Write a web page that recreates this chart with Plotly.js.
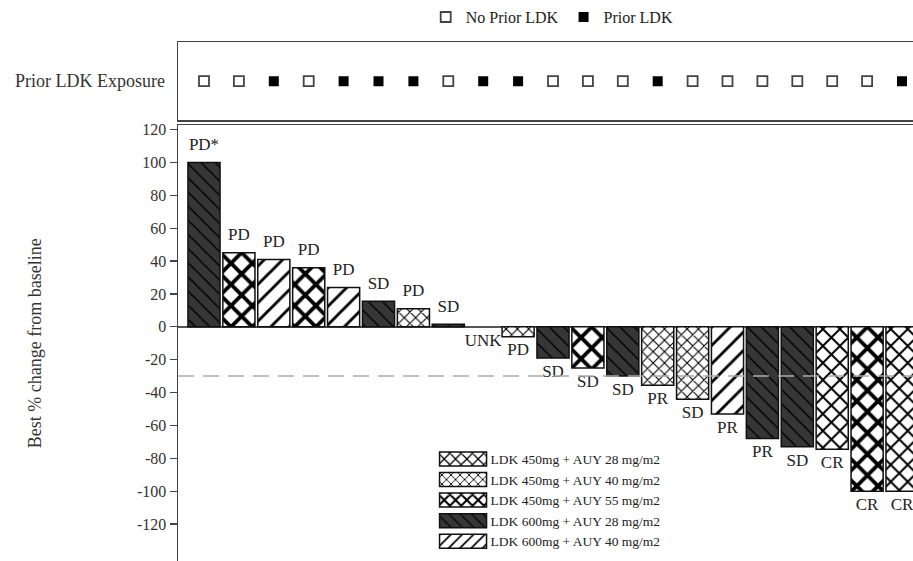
<!DOCTYPE html>
<html>
<head>
<meta charset="utf-8">
<script src="https://cdn.plot.ly/plotly-3.0.1.min.js"></script>
<style>html,body{margin:0;padding:0;background:#fff;}#chart{width:913px;height:561px;}</style>
</head>
<body>
<div id="chart"></div>
<script>
// ---- Data ----
var patients = [1,2,3,4,5,6,7,8,9,10,11,12,13,14,15,16,17,18,19,20,21];
var bestChange = [100,45,41,36,24,15.5,11,1.5,null,-6,-19,-25,-30,-35.5,-44,-53,-68,-73,-74.5,-100,-100];
var response = ['PD*','PD','PD','PD','PD','SD','PD','SD','UNK','PD','SD','SD','SD','PR','SD','PR','PR','SD','CR','CR','CR'];
var treatment = ['600/28','450/55','600/40','450/55','600/40','600/28','450/40','600/28','','450/40','600/28','450/55','600/28','450/40','450/40','600/40','600/28','600/28','450/28','450/55','450/28'];
var priorLDK = [0,0,1,0,1,1,1,0,1,1,0,0,0,1,0,0,0,0,0,0,1];

var treatmentKeys = ['450/28','450/40','450/55','600/28','600/40'];
var treatmentNames = ['LDK 450mg + AUY 28 mg/m2','LDK 450mg + AUY 40 mg/m2','LDK 450mg + AUY 55 mg/m2','LDK 600mg + AUY 28 mg/m2','LDK 600mg + AUY 40 mg/m2'];
var exposureNames = ['No Prior LDK','Prior LDK'];

var yTickVals = [-120,-100,-80,-60,-40,-20,0,20,40,60,80,100,120];
var yTickText = ['-120','-100','-80','-60','-40','-20','0','20','40','60','80','100','120'];

// ---- Styles ----
var serif = 'Liberation Serif';
var patterns = {
  '450/28': {shape:'x', size:12, solidity:0.3, fgcolor:'#000', bgcolor:'#fff', fgopacity:1},
  '450/40': {shape:'x', size:8, solidity:0.26, fgcolor:'#000', bgcolor:'#fff', fgopacity:1},
  '450/55': {shape:'x', size:15, solidity:0.45, fgcolor:'#000', bgcolor:'#fff', fgopacity:1},
  '600/28': {shape:'\\', size:10, solidity:0.15, fgcolor:'#000', bgcolor:'#363636', fgopacity:1},
  '600/40': {shape:'/', size:13, solidity:0.22, fgcolor:'#000', bgcolor:'#fff', fgopacity:1}
};

var idx = patients.map(function(p){return p-1;});
var traces = [];

treatmentKeys.forEach(function(k, ti){
  var xs = [], ys = [];
  idx.forEach(function(i){
    if (treatment[i] === k) { xs.push(i); ys.push(bestChange[i]); }
  });
  traces.push({
    type:'bar', x:xs, y:ys, name:treatmentNames[ti], xaxis:'x', yaxis:'y',
    width:0.92,
    marker:{color:patterns[k].bgcolor, pattern:patterns[k], line:{color:'#111', width:1.5}},
    legend:'legend', hoverinfo:'x+y'
  });
});

// response labels (invisible markers give the gap between bar end and text)
var upX=[],upY=[],upT=[],dnX=[],dnY=[],dnT=[];
idx.forEach(function(i){
  var v = bestChange[i];
  if (v !== null && v > 0) { upX.push(i); upY.push(v); upT.push(response[i]); }
  else { dnX.push(i); dnY.push(v === null ? 0 : v); dnT.push(response[i]); }
});
traces.push({type:'scatter', mode:'markers+text', x:upX, y:upY, text:upT, textposition:'top center',
  marker:{size:12, opacity:0}, textfont:{family:serif, size:17, color:'#222'}, showlegend:false, hoverinfo:'skip', xaxis:'x', yaxis:'y'});
traces.push({type:'scatter', mode:'markers+text', x:dnX, y:dnY, text:dnT, textposition:'bottom center',
  marker:{size:8, opacity:0}, textfont:{family:serif, size:17, color:'#222'}, showlegend:false, hoverinfo:'skip', xaxis:'x', yaxis:'y'});

// prior exposure squares
[0,1].forEach(function(e){
  var xs=[], ys=[];
  idx.forEach(function(i){ if (priorLDK[i]===e) { xs.push(i); ys.push(0); } });
  traces.push({type:'scatter', mode:'markers', x:xs, y:ys, name:exposureNames[e], xaxis:'x2', yaxis:'y2',
    marker:{symbol: e ? 'square' : 'square-open', size:10, color: e ? '#000' : '#444', line:{width: e ? 0 : 1.8, color:'#444'}},
    legend:'legend2', hoverinfo:'x+name'});
});

var xr = [-0.745, 20.315];
var layout = {
  width:913, height:561,
  margin:{l:178, r:0, t:38, b:0},
  paper_bgcolor:'#fff', plot_bgcolor:'rgba(0,0,0,0)',
  font:{family:serif, color:'#222', size:14},
  barmode:'overlay',
  showlegend:true,
  xaxis:{domain:[0,1], range:xr, side:'top', showline:true, linecolor:'#444', linewidth:1.5,
    showticklabels:false, ticks:'', showgrid:false, zeroline:false, fixedrange:true},
  yaxis:{domain:[0,0.8394], range:[-142.5,122.6], showline:true, linecolor:'#444', linewidth:1.5,
    ticks:'outside', ticklen:7, tickwidth:1.2, tickcolor:'#444', tickmode:'array', tickvals:yTickVals, ticktext:yTickText,
    tickfont:{family:serif, size:16, color:'#333'}, showgrid:false,
    zeroline:true, zerolinecolor:'#555', zerolinewidth:1.5,
    title:{text:'Best % change from baseline', font:{family:serif, size:18, color:'#333'}, standoff:90}},
  xaxis2:{domain:[0,1], range:xr, anchor:'y2', matches:'x', showline:true, mirror:true, linecolor:'#444', linewidth:1.5,
    showticklabels:false, ticks:'', showgrid:false, zeroline:false},
  yaxis2:{domain:[0.849,1], range:[-1,1], anchor:'x2', showline:true, linecolor:'#444', linewidth:1.5,
    tickvals:[0], ticktext:['Prior LDK Exposure'], ticks:'', ticklabelstandoff:8,
    tickfont:{family:serif, size:18, color:'#333'}, showgrid:false, zeroline:false},
  legend:{x:0.33, y:0.226, xanchor:'left', yanchor:'top', bgcolor:'rgba(255,255,255,0)',
    font:{family:serif, size:13.5, color:'#222'}, tracegroupgap:0, traceorder:'normal', itemwidth:60},
  legend2:{orientation:'h', x:0.337, y:1.048, xanchor:'left', yanchor:'middle', bgcolor:'rgba(255,255,255,0)',
    font:{family:serif, size:16, color:'#222'}, itemwidth:30},
  shapes:[{type:'line', xref:'paper', x0:0, x1:1, yref:'y', y0:-30, y1:-30, layer:'above',
    line:{color:'#aaa', width:1.5, dash:'16px,9px'}}]
};

var gd = document.getElementById('chart');
function widenSwatches(){
  // enlarge bar legend swatches to wide rectangles just left of their text
  var items = gd.querySelectorAll('.legend .traces');
  for (var n = 0; n < items.length; n++) {
    var it = items[n];
    var path = it.querySelector('.legendpoints path');
    var txt = it.querySelector('.legendtext');
    if (!path || !txt || path.getAttribute('data-wide')) continue;
    var pr = path.getBoundingClientRect();
    var tr = txt.getBoundingClientRect();
    var cx = (pr.left + pr.right) / 2;
    var dx = (tr.left - 4 - 23.5) - cx;
    path.setAttribute('d', 'M' + (dx + 23.5) + ',7H' + (dx - 23.5) + 'V-7H' + (dx + 23.5) + 'Z');
    path.setAttribute('data-wide', '1');
  }
}
var p = Plotly.newPlot(gd, traces, layout, {displayModeBar:false, staticPlot:true});
widenSwatches();
if (p && p.then) p.then(widenSwatches);
</script>
</body>
</html>
